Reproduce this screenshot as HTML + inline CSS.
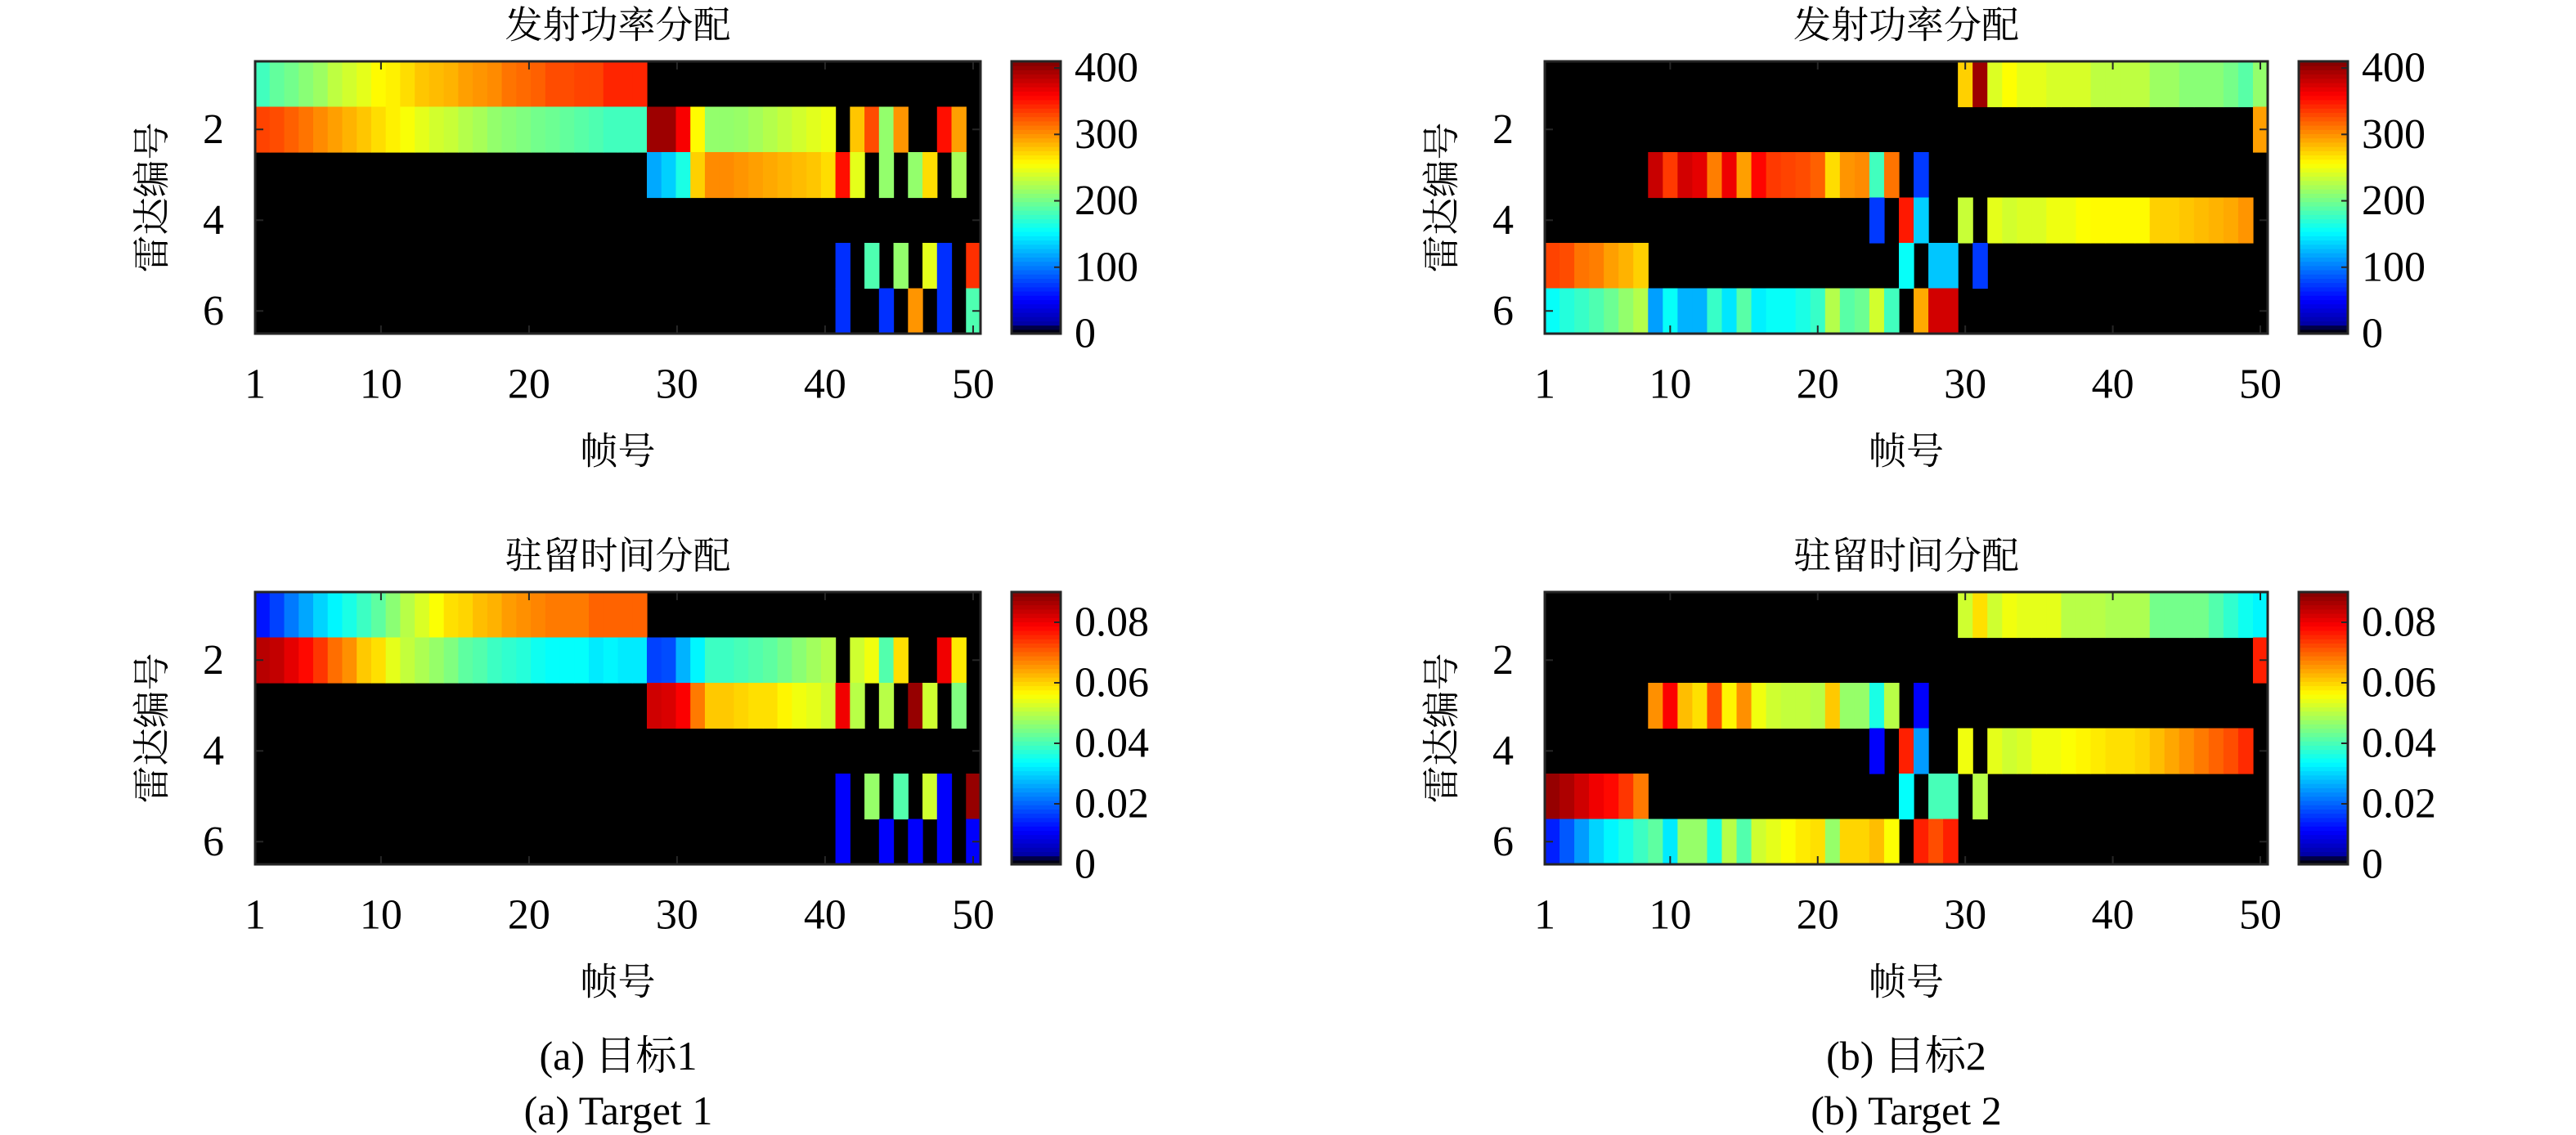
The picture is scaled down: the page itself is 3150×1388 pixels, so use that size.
<!DOCTYPE html>
<html><head><meta charset="utf-8">
<style>
html,body{margin:0;padding:0;background:#fff;}
svg{display:block;}
</style></head>
<body>
<svg id="fig" width="3150" height="1388" viewBox="0 0 3150 1388" xmlns="http://www.w3.org/2000/svg" font-family="'Liberation Serif', 'Noto Serif CJK SC', serif"></svg>
<script>
// ---------- data (column index -> value), segments: [startColumn, [values...]] ----------
const frameTicks = [1, 10, 20, 30, 40, 50];
const radarTicks = [2, 4, 6];
const powerCbTicks = [0, 100, 200, 300, 400];
const powerCbLabels = ["0", "100", "200", "300", "400"];
const timeCbTicks = [0, 0.02, 0.04, 0.06, 0.08];
const timeCbLabels = ["0", "0.02", "0.04", "0.06", "0.08"];

// Target 1 - power
const t1PowR1 = [[1,[180,193,200,209,217,230,238,246,258,262,270,279,283,287,295,299,303,312,316,320,328,328,332,332,344,344,344]]];
const t1PowR2 = [[1,[332,328,320,312,303,295,287,279,270,262,254,246,238,234,226,221,213,209,205,200,197,193,189,185,180,180,180]],[28,[398,398,361,258,213,213,215,220,226,232,238,244,250]],[42,[279,328,213,299]],[48,[353,295]]];
const t1PowR3 = [[28,[119,135,164,275,303,303,299,295,291,287,283,279,270,353,246]],[44,[213]],[46,[213,270]],[49,[221]]];
const t1PowR4 = [];
const t1PowR5 = [[41,[70]],[43,[185]],[45,[213]],[47,[246,70]],[50,[340]]];
const t1PowR6 = [[41,[70]],[44,[70]],[46,[299]],[48,[70]],[50,[185]]];

// Target 2 - power
const t2PowR1 = [[30,[275,398,242,256,246,246,240,240,240,230,230,230,230,217,217,209,209,209,201,189,213]]];
const t2PowR2 = [[50,[295]]];
const t2PowR3 = [[9,[381,336,377,369,308,365,295,357,336,332,328,320,270,299,303,180,312]],[27,[74]]];
const t2PowR4 = [[24,[74]],[26,[349,135]],[30,[234]],[32,[246,238,242,242,250,250,256,258,258,258,258,275,275,279,283,287,291,299]]];
const t2PowR5 = [[2,[332,328,312,308,295,287,275]],[26,[156]],[28,[131,131]],[31,[74]]];
const t2PowR6 = [[2,[156,168,176,185,197,213,226,115,156,123,123,176,144,189,148,156,156,164,176,226,189,197,238,180]],[27,[291,377,377]]];

// Target 1 - dwell time
const t1TimR1 = [[1,[0.013,0.017,0.022,0.026,0.030,0.033,0.036,0.039,0.042,0.046,0.050,0.053,0.056,0.059,0.060,0.062,0.063,0.065,0.066,0.067,0.068,0.068,0.068,0.070,0.070,0.070,0.070]]];
const t1TimR2 = [[1,[0.085,0.084,0.081,0.078,0.074,0.069,0.066,0.061,0.059,0.054,0.051,0.049,0.047,0.045,0.042,0.041,0.039,0.038,0.037,0.035,0.034,0.034,0.034,0.032,0.033,0.032,0.032]],[28,[0.017,0.018,0.027,0.033,0.039,0.039,0.040,0.041,0.042,0.044,0.046,0.048,0.050]],[42,[0.052,0.055,0.041,0.059]],[48,[0.080,0.058]]];
const t1TimR3 = [[28,[0.083,0.082,0.079,0.068,0.061,0.061,0.060,0.059,0.059,0.057,0.055,0.054,0.052,0.080,0.050]],[44,[0.050]],[46,[0.088,0.052]],[49,[0.045]]];
const t1TimR4 = [];
const t1TimR5 = [[41,[0.011]],[43,[0.047]],[45,[0.041]],[47,[0.052,0.011]],[50,[0.088]]];
const t1TimR6 = [[41,[0.011]],[44,[0.011]],[46,[0.011]],[48,[0.011]],[50,[0.011]]];

// Target 2 - dwell time
const t2TimR1 = [[30,[0.052,0.059,0.052,0.055,0.054,0.054,0.054,0.050,0.050,0.050,0.049,0.049,0.049,0.044,0.044,0.044,0.044,0.041,0.038,0.035,0.033]]];
const t2TimR2 = [[50,[0.076]]];
const t2TimR3 = [[9,[0.066,0.079,0.062,0.059,0.072,0.057,0.066,0.055,0.052,0.051,0.051,0.050,0.061,0.047,0.047,0.036,0.050]],[27,[0.011]]];
const t2TimR4 = [[24,[0.011]],[26,[0.076,0.025]],[30,[0.055]],[32,[0.054,0.052,0.053,0.055,0.055,0.056,0.057,0.058,0.059,0.059,0.060,0.062,0.064,0.066,0.068,0.070,0.072,0.075]]];
const t2TimR5 = [[2,[0.088,0.086,0.083,0.080,0.078,0.074,0.068]],[26,[0.034]],[28,[0.040,0.040]],[31,[0.050]]];
const t2TimR6 = [[2,[0.014,0.019,0.025,0.030,0.033,0.036,0.039,0.042,0.032,0.047,0.047,0.036,0.050,0.041,0.052,0.054,0.056,0.058,0.059,0.047,0.060,0.060,0.062,0.056]],[27,[0.076,0.072,0.076]]];

// ---------- rendering ----------
const NS = "http://www.w3.org/2000/svg";
const svg = document.getElementById("fig");
const FONT = "'Liberation Serif', 'Noto Serif CJK SC', serif";
function mk(tag, attrs, parent) {
  const e = document.createElementNS(NS, tag);
  for (const k in attrs) e.setAttribute(k, attrs[k]);
  (parent || svg).appendChild(e);
  return e;
}
function clamp(v){return Math.max(0,Math.min(1,v));}
function jet(t){
  t = clamp(t);
  const r = clamp(1.5 - Math.abs(4*t-3)), g = clamp(1.5 - Math.abs(4*t-2)), b = clamp(1.5 - Math.abs(4*t-1));
  return "rgb(" + Math.round(r*255) + "," + Math.round(g*255) + "," + Math.round(b*255) + ")";
}
function expand(segs){
  const out = {};
  segs.forEach(function(s){ s[1].forEach(function(v,i){ out[s[0]+i] = v; }); });
  return out;
}
function txt(s, x, y, size, anchor, parent){
  const t = mk("text", {x:x, y:y, "font-size":size, "font-family":FONT, fill:"#000", "text-anchor":anchor||"middle", "dominant-baseline":"central"}, parent);
  t.textContent = s;
  return t;
}

const panels = [
  {id:"t1-power", L:312, R:1199, T:75, B:408, xlo:0.5, cmax:410, rows:[t1PowR1,t1PowR2,t1PowR3,t1PowR4,t1PowR5,t1PowR6], title:"发射功率分配", cbT:powerCbTicks, cbL:powerCbLabels},
  {id:"t2-power", L:1889, R:2773, T:75, B:408, xlo:1.5, cmax:410, rows:[t2PowR1,t2PowR2,t2PowR3,t2PowR4,t2PowR5,t2PowR6], title:"发射功率分配", cbT:powerCbTicks, cbL:powerCbLabels},
  {id:"t1-dwell-time", L:312, R:1199, T:724, B:1057, xlo:0.5, cmax:0.09, rows:[t1TimR1,t1TimR2,t1TimR3,t1TimR4,t1TimR5,t1TimR6], title:"驻留时间分配", cbT:timeCbTicks, cbL:timeCbLabels},
  {id:"t2-dwell-time", L:1889, R:2773, T:724, B:1057, xlo:1.5, cmax:0.09, rows:[t2TimR1,t2TimR2,t2TimR3,t2TimR4,t2TimR5,t2TimR6], title:"驻留时间分配", cbT:timeCbTicks, cbL:timeCbLabels}
];

panels.forEach(function(p){
  const g = mk("g", {});
  
  
  const W = p.R - p.L, H = p.B - p.T;
  const xCell = function(v){ return p.L + (v - p.xlo) / (50.5 - p.xlo) * W; };
  const xTick = function(v){ return p.L + (Math.max(v,1.5) - 1.5) / 49 * W; };
  const yVal = function(v){ return p.T + (v - 0.5) / 6 * H; };
  const cellsG = mk("g", {}, g);
  
  
  mk("rect", {x:p.L, y:p.T, width:W, height:H, fill:"#000"}, cellsG);
  p.rows.forEach(function(segs, ri){
    const m = expand(segs);
    const r = ri + 1;
    for (const k in m){
      const c = +k;
      if (c - 0.5 < p.xlo - 0.001) continue;
      const x0 = xCell(c - 0.5), x1 = Math.min(xCell(c + 0.5) + 0.6, p.R);
      const y0 = yVal(r - 0.5), y1 = Math.min(yVal(r + 0.5) + 0.6, p.B);
      const cell = mk("rect", {x:x0.toFixed(2), y:y0.toFixed(2), width:(x1-x0).toFixed(2), height:(y1-y0).toFixed(2), fill:jet(m[k]/p.cmax)}, cellsG);
      
      
    }
  });
  const frame = mk("rect", {x:p.L, y:p.T, width:W, height:H, fill:"none", stroke:"#262626", "stroke-width":3}, g);
  
  
  frameTicks.forEach(function(v){
    const x = xTick(v);
    mk("line", {x1:x, y1:p.B, x2:x, y2:p.B-10, stroke:"#262626", "stroke-width":2}, g);
    mk("line", {x1:x, y1:p.T, x2:x, y2:p.T+10, stroke:"#262626", "stroke-width":2}, g);
    const t = txt(String(v), x, p.B + 62, 52, "middle", g);
    
    
  });
  radarTicks.forEach(function(r){
    const y = yVal(r);
    mk("line", {x1:p.L, y1:y, x2:p.L+10, y2:y, stroke:"#262626", "stroke-width":2}, g);
    mk("line", {x1:p.R, y1:y, x2:p.R-10, y2:y, stroke:"#262626", "stroke-width":2}, g);
    const t = txt(String(r), p.L - 51, y, 52, "middle", g);
    
    
  });
  const title = txt(p.title, (p.L+p.R)/2, p.T - 44, 46, "middle", g);
  
  
  const xl = txt("帧号", (p.L+p.R)/2, p.B + 144, 46, "middle", g);
  
  
  const yc = (p.T + p.B)/2;
  const yl = txt("雷达编号", p.L - 126, yc, 46, "middle", g);
  yl.setAttribute("transform", "rotate(-90 " + (p.L-126) + " " + yc + ")");
  
  
  const cbG = mk("g", {}, g);
  
  
  const cx = p.R + 38, cw = 60, n = 64;
  for (let i = 0; i < n; i++){
    const t = (i + 0.5) / n;
    let col = jet(t);
    if (i === 0) col = "rgb(0,0,20)";
    if (i === 1) col = "rgb(0,0,70)";
    mk("rect", {x:cx, y:(p.B - (i+1)*H/n).toFixed(2), width:cw, height:(H/n+0.6).toFixed(2), fill:col}, cbG);
  }
  mk("rect", {x:cx, y:p.T, width:cw, height:H, fill:"none", stroke:"#262626", "stroke-width":3}, cbG);
  p.cbT.forEach(function(v, i){
    const y = p.B - v / p.cmax * H;
    mk("line", {x1:cx+cw, y1:y, x2:cx+cw-8, y2:y, stroke:"#262626", "stroke-width":2}, cbG);
    const t = txt(p.cbL[i], cx + cw + 17, y, 52, "start", cbG);
    
    
  });
});

const captions = [["(a) 目标1", 756, 1291], ["(a) Target 1", 756, 1358], ["(b) 目标2", 2331, 1291], ["(b) Target 2", 2331, 1358]];
captions.forEach(function(c){
  const t = txt(c[0], c[1], c[2], 50, "middle");
  
  
});
</script>
</body></html>
